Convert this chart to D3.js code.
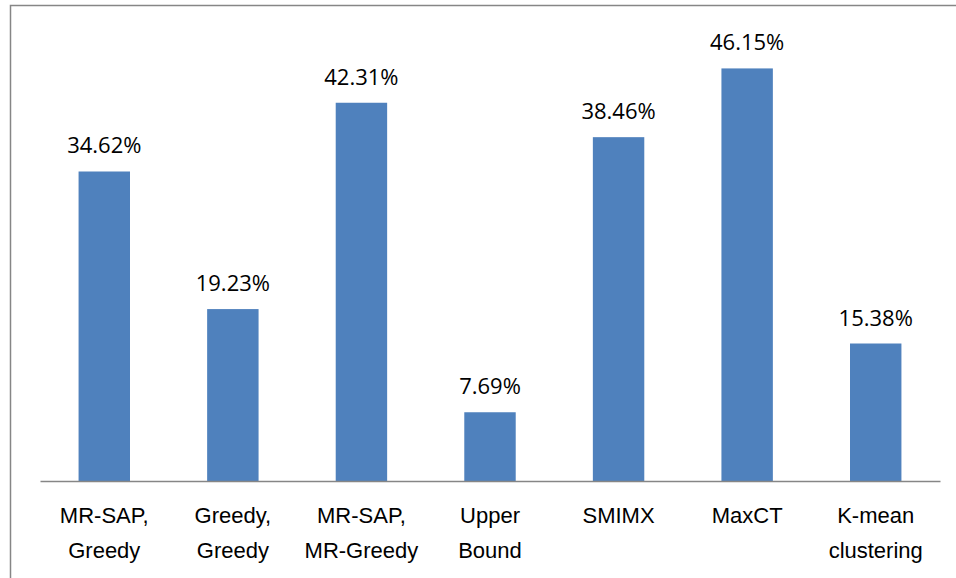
<!DOCTYPE html>
<html>
<head>
<meta charset="utf-8">
<script src="https://cdnjs.cloudflare.com/ajax/libs/d3/7.8.5/d3.min.js"></script>
<style>
  html, body { margin: 0; padding: 0; background: #fff; }
  svg { display: block; font-family: "Open Sans", sans-serif; }
</style>
</head>
<body>
<div id="chart"></div>
<script>
// data
var categories = [
  ["MR-SAP,", "Greedy"],
  ["Greedy,", "Greedy"],
  ["MR-SAP,", "MR-Greedy"],
  ["Upper", "Bound"],
  ["SMIMX"],
  ["MaxCT"],
  ["K-mean", "clustering"]
];
var values = [34.62, 19.23, 42.31, 7.69, 38.46, 46.15, 15.38];
var yDomain = [0, 50];

var width = 956, height = 578;
var margin = { top: 34, right: 16, bottom: 97, left: 40 };
var plotW = width - margin.left - margin.right,
    plotH = height - margin.top - margin.bottom;

var svg = d3.select("#chart").append("svg")
  .attr("width", width)
  .attr("height", height);

// outer chart frame (runs off the right and bottom edges)
svg.append("rect")
  .attr("x", 10.5)
  .attr("y", 5.5)
  .attr("width", width + 20)
  .attr("height", height + 20)
  .style("fill", "none")
  .style("stroke", "#868686")
  .style("stroke-width", 1.5);

var g = svg.append("g")
  .attr("transform", "translate(" + margin.left + "," + margin.top + ")");

var keys = categories.map(function(c, i) { return i; });

var xScale = d3.scaleBand()
  .domain(keys)
  .range([0, plotW])
  .paddingInner(0.6)
  .paddingOuter(0.3);

var yScale = d3.scaleLinear()
  .domain(yDomain)
  .range([plotH, 0]);

// bars
g.selectAll(".bar")
  .data(values)
  .enter()
  .append("rect")
  .attr("class", "bar")
  .attr("x", function(d, i) { return xScale(i); })
  .attr("width", xScale.bandwidth())
  .attr("y", function(d) { return yScale(d); })
  .attr("height", function(d) { return yScale(0) - yScale(d); })
  .style("fill", "#4F81BD");

// value labels
g.selectAll(".val")
  .data(values)
  .enter()
  .append("text")
  .attr("class", "val")
  .attr("x", function(d, i) { return xScale(i) + xScale.bandwidth() / 2; })
  .attr("y", function(d) { return yScale(d) - 18; })
  .style("text-anchor", "middle")
  .style("font-size", "22px")
  .style("fill", "#000")
  .text(function(d) { return d.toFixed(2) + "%"; });

// x axis
var xAxis = d3.axisBottom(xScale)
  .tickSize(0)
  .tickFormat("");

var axisG = g.append("g")
  .attr("class", "x axis")
  .attr("transform", "translate(0," + plotH + ")")
  .call(xAxis);

axisG.select(".domain")
  .style("stroke", "#868686")
  .style("stroke-width", 1.5);

axisG.selectAll(".tick").each(function(i) {
  var t = d3.select(this).append("text")
    .style("text-anchor", "middle")
    .style("font-size", "22px")
    .style("fill", "#000")
    .attr("y", 42);
  categories[i].forEach(function(line, k) {
    t.append("tspan")
      .attr("x", 0)
      .attr("dy", k === 0 ? 0 : 35)
      .text(line);
  });
});
</script>
</body>
</html>
